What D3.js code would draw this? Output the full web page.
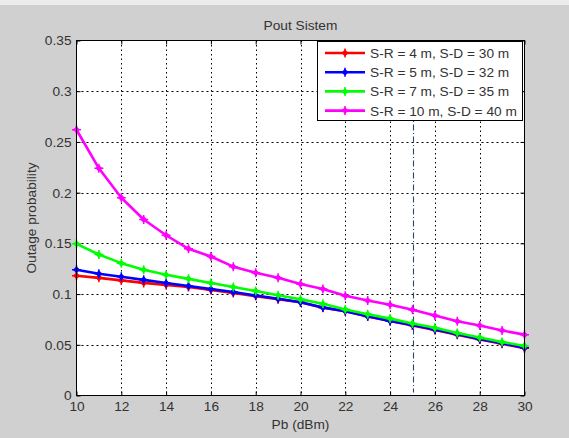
<!DOCTYPE html>
<html><head><meta charset="utf-8">
<script src="https://cdn.jsdelivr.net/npm/d3@7"></script>
<style>body{margin:0;background:#d0d0d0;} svg{display:block;font-family:"Liberation Sans",Arial,sans-serif;}</style>
</head><body>
<svg id="c" width="569" height="438"></svg>
<script>
const pb = d3.range(10, 31);
const seriesNames = ["S-R = 4 m, S-D = 30 m","S-R = 5 m, S-D = 32 m","S-R = 7 m, S-D = 35 m","S-R = 10 m, S-D = 40 m"];
const seriesColors = ["#ff0000","#0000ff","#00ff00","#ff00ff"];
const red =     [0.118,0.116,0.1135,0.111,0.109,0.107,0.104,0.101,0.098,0.095,0.092,0.0865,0.083,0.078,0.0735,0.069,0.0645,0.0598,0.0553,0.051,0.0465];
const blue =    [0.124,0.120,0.117,0.114,0.111,0.108,0.105,0.102,0.0986,0.0953,0.092,0.0868,0.0832,0.0782,0.0735,0.0695,0.065,0.0603,0.0558,0.0515,0.047];
const green =   [0.1495,0.139,0.1305,0.124,0.119,0.115,0.111,0.107,0.103,0.0988,0.0948,0.0904,0.0848,0.0802,0.0758,0.0709,0.0668,0.0616,0.0571,0.0528,0.0488];
const magenta = [0.262,0.224,0.195,0.1735,0.158,0.1446,0.137,0.127,0.121,0.116,0.110,0.105,0.0983,0.0937,0.0894,0.0845,0.0789,0.0733,0.069,0.064,0.060];
const allSeries = [red, blue, green, magenta];
const xTicks = [10,12,14,16,18,20,22,24,26,28,30];
const yTicks = [0,0.05,0.1,0.15,0.2,0.25,0.3,0.35];
const markerX = 25;

const FS = "13.7px";
const svg = d3.select("#c");
svg.append("rect").attr("width",569).attr("height",438).attr("fill","#d0d0d0");
svg.append("rect").attr("width",569).attr("height",5).attr("fill","#ececec");

const L=76.5, R=524.5, T=40.5, B=395.5;
const x = d3.scaleLinear().domain([10,30]).range([L,R]);
const y = d3.scaleLinear().domain([0,0.35]).range([B,T]);

svg.append("rect").attr("x",L).attr("y",T).attr("width",R-L).attr("height",B-T).attr("fill","#fff");

const g = svg.append("g");
g.selectAll(".gx").data(xTicks.slice(1,-1)).join("line")
 .attr("x1",d=>Math.round(x(d))+0.5).attr("x2",d=>Math.round(x(d))+0.5).attr("y1",T).attr("y2",B)
 .attr("stroke","#000").attr("stroke-width",1).attr("stroke-dasharray","1.5,3");
g.selectAll(".gy").data(yTicks.slice(1,-1)).join("line")
 .attr("y1",d=>Math.round(y(d))+0.5).attr("y2",d=>Math.round(y(d))+0.5).attr("x1",L).attr("x2",R)
 .attr("stroke","#000").attr("stroke-width",1).attr("stroke-dasharray","2,3");

const ax = d3.axisBottom(x).tickValues(xTicks).tickSize(-4).tickPadding(6).tickFormat(d3.format("d"));
const ay = d3.axisLeft(y).tickValues(yTicks).tickSize(-4).tickPadding(5).tickFormat(d=>d===0?"0":d3.format(".2~f")(d));
const axT = d3.axisTop(x).tickValues(xTicks).tickSize(-4).tickFormat("");
const ayR = d3.axisRight(y).tickValues(yTicks).tickSize(-4).tickFormat("");
function style(sel){sel.select(".domain").remove();sel.selectAll("line").attr("stroke","#000");sel.selectAll("text").attr("fill","#333").style("font-size",FS).style("font-family","'Liberation Sans',Arial,sans-serif");}
svg.append("g").attr("transform",`translate(0,${B})`).call(ax).call(style);
svg.append("g").attr("transform",`translate(${L},0)`).call(ay).call(style);
svg.append("g").attr("transform",`translate(0,${T})`).call(axT).call(style);
svg.append("g").attr("transform",`translate(${R},0)`).call(ayR).call(style);

svg.append("line").attr("x1",Math.round(x(markerX))+0.5).attr("x2",Math.round(x(markerX))+0.5)
 .attr("y1",y(0.35)).attr("y2",y(0.003)).attr("stroke","#2a4470").attr("stroke-width",1.1).attr("stroke-dasharray","6,2.5,1,2.5");

const line = d3.line().x((d,i)=>x(pb[i])).y(d=>y(d));
function marker(sel,color){
  sel.append("path").attr("d","M-3.5,0L0,-3.5L3.5,0L0,3.5Z").attr("fill",color);
  sel.append("path").attr("d","M-4.5,0H4.5M0,-4.5V4.5").attr("stroke",color).attr("stroke-width",1.5);
}
allSeries.forEach((s,k)=>{
  const c = seriesColors[k];
  svg.append("path").datum(s).attr("d",line).attr("fill","none").attr("stroke",c).attr("stroke-width",2.6).attr("stroke-linejoin","round");
  svg.append("g").selectAll("g").data(s).join("g").attr("transform",(d,i)=>`translate(${x(pb[i])},${y(d)})`).each(function(){marker(d3.select(this),c);});
});

svg.append("rect").attr("x",L).attr("y",T).attr("width",R-L).attr("height",B-T).attr("fill","none").attr("stroke","#000").attr("stroke-width",1);

const lg = svg.append("g");
lg.append("rect").attr("x",317.5).attr("y",41.5).attr("width",205).attr("height",79).attr("fill","#fff").attr("stroke","#000");
seriesNames.forEach((n,k)=>{
  const yy = 53 + k*19.2;
  lg.append("line").attr("x1",325).attr("x2",365).attr("y1",yy).attr("y2",yy).attr("stroke",seriesColors[k]).attr("stroke-width",2.6);
  marker(lg.append("g").attr("transform",`translate(345,${yy})`),seriesColors[k]);
  lg.append("text").attr("x",370).attr("y",yy+5).text(n).attr("fill","#333").style("font-size",FS);
});

svg.append("text").attr("x",(L+R)/2).attr("y",30).attr("text-anchor","middle").attr("fill","#333").style("font-size",FS).text("Pout Sistem");
svg.append("text").attr("x",(L+R)/2).attr("y",429).attr("text-anchor","middle").attr("fill","#333").style("font-size",FS).text("Pb (dBm)");
svg.append("text").attr("transform",`translate(36,${(T+B)/2}) rotate(-90)`).attr("text-anchor","middle").attr("fill","#333").style("font-size",FS).text("Outage probability");
</script>
</body></html>
